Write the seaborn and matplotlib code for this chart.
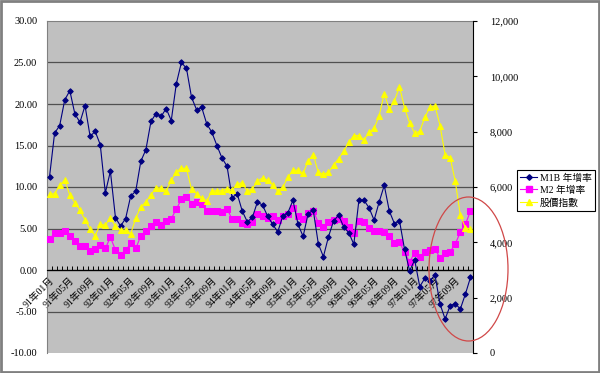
import matplotlib
matplotlib.use('Agg')
import matplotlib.pyplot as plt
from matplotlib.patches import Ellipse, Rectangle
from matplotlib.lines import Line2D
from matplotlib.transforms import ScaledTranslation
import seaborn as sns

# monthly categories 91年01月 .. 97年12月
months = [f'{y}年{m:02d}月' for y in range(91, 98) for m in range(1, 13)]

m1b_growth = [11.25, 16.5, 17.4, 20.5, 21.6, 18.8, 17.8, 19.8, 16.1, 16.7,
              15.1, 9.3, 11.9, 6.3, 5.3, 6.2, 8.9, 9.5, 13.1, 14.5,
              17.9, 18.85, 18.5, 19.45, 18.0, 22.45, 25.0, 24.3, 20.8, 19.3,
              19.6, 17.6, 16.6, 15.0, 13.5, 12.5, 8.7, 9.2, 7.1, 5.8,
              6.35, 8.2, 7.8, 6.5, 5.5, 4.6, 6.5, 6.9, 8.4, 5.5,
              4.05, 6.8, 7.2, 3.15, 1.6, 4.0, 5.9, 6.6, 5.2, 4.5,
              3.1, 8.4, 8.4, 7.5, 6.0, 8.2, 10.2, 7.1, 5.6, 5.95,
              2.5, -0.1, 1.2, -2.0, -1.0, -1.3, -0.6, -4.1, -5.9, -4.3,
              -4.05, -4.7, -2.9, -0.9]

m2_growth = [3.7, 4.45, 4.45, 4.7, 4.1, 3.55, 2.85, 2.85, 2.25, 2.55,
             3.05, 2.6, 3.95, 2.4, 1.85, 2.35, 3.2, 2.6, 4.1, 4.7,
             5.3, 5.8, 5.45, 5.85, 6.2, 7.3, 8.55, 8.85, 8.0, 8.2,
             7.9, 7.15, 7.15, 7.15, 7.0, 7.4, 6.1, 6.1, 5.65, 5.6,
             5.8, 6.7, 6.5, 6.25, 6.5, 6.0, 6.5, 6.7, 7.5, 6.45,
             6.1, 6.85, 7.15, 5.7, 5.2, 5.8, 6.0, 6.1, 5.95, 5.2,
             4.5, 5.95, 5.8, 5.1, 4.65, 4.65, 4.55, 4.05, 3.3, 3.35,
             2.15, 0.95, 2.1, 1.55, 2.2, 2.4, 2.55, 1.45, 2.0, 2.2,
             3.15, 4.55, 5.5, 7.1]

stock_index = [5730, 5760, 6060, 6255, 5700, 5430, 5160, 4815, 4470, 4245,
               4650, 4620, 4890, 4575, 4440, 4440, 4305, 4875, 5280, 5460,
               5715, 5970, 5970, 5850, 6240, 6555, 6675, 6675, 5910, 5760,
               5610, 5490, 5850, 5865, 5865, 5940, 5880, 6120, 6150, 5850,
               5940, 6210, 6330, 6240, 6075, 5850, 6000, 6345, 6615, 6600,
               6495, 6945, 7170, 6525, 6465, 6525, 6795, 7020, 7290, 7620,
               7860, 7860, 7695, 7980, 8115, 8580, 9375, 8805, 9105, 9630,
               8865, 8310, 7950, 8010, 8520, 8880, 8940, 8220, 7170, 7065,
               6210, 4980, 4530, 4470]

series_names = ['M1B 年增率', 'M2 年增率', '股價指數']
colors = ['#000080', '#FF00FF', '#FFFF00']

plt.rcParams['font.family'] = ['Liberation Serif', 'Noto Sans CJK TC']
plt.rcParams['axes.unicode_minus'] = False

idx = list(range(len(months)))

fig = plt.figure(figsize=(6, 3.73), dpi=100)
ax = fig.add_axes([47/600, 20/373, 426/600, 332/373])
ax.set_facecolor('#C0C0C0')
ax2 = ax.twinx()

sns.lineplot(x=idx, y=m1b_growth, ax=ax, color=colors[0], marker='D', markersize=2.8,
             markeredgecolor=colors[0], linewidth=0.8, zorder=4)
sns.lineplot(x=idx, y=m2_growth, ax=ax, color=colors[1], marker='s', markersize=3.8,
             markeredgecolor=colors[1], linewidth=0.8, zorder=3)
sns.lineplot(x=idx, y=stock_index, ax=ax2, color=colors[2], marker='^', markersize=3.8,
             markeredgecolor=colors[2], linewidth=0.8)

ax.set_xlim(-0.5, len(months) - 0.5)
ax.set_ylim(-10, 30)
ax2.set_ylim(0, 12000)
ax.set_yticks(range(-10, 31, 5))
ax.set_yticklabels([f'{v:.2f}' for v in range(-10, 31, 5)], fontsize=7.5)
ax.tick_params(axis='y', length=0, pad=7)
for v in range(-5, 30, 5):
    ax.axhline(v, color='#505050' if v != 0 else 'black', lw=0.9, zorder=1)

ax2.set_yticks(range(0, 12001, 2000))
ax2.set_yticklabels([f'{v:,}' for v in range(0, 12001, 2000)], fontsize=7.5)
ax2.tick_params(axis='y', length=3, width=0.8, pad=9, direction='out')

# category axis crossing at zero
ax.spines['bottom'].set_position(('data', 0))
ax.spines['bottom'].set_color('black')
ax.set_xticks(idx[::4])
ax.set_xticklabels(months[::4], rotation=45, ha='right', va='top',
                   rotation_mode='anchor', fontsize=7)
shift = ScaledTranslation(-0.06, 0, fig.dpi_scale_trans)
for lab in ax.get_xticklabels():
    lab.set_transform(lab.get_transform() + shift)
ax.set_xticks([i - 0.5 for i in idx], minor=True)
ax.tick_params(axis='x', which='major', length=0, pad=4)
ax.tick_params(axis='x', which='minor', length=3, width=0.7, direction='in')
for s in ['top', 'left']:
    ax.spines[s].set_color('#808080')
for s in ['top', 'left', 'bottom']:
    ax2.spines[s].set_visible(False)
ax2.spines['right'].set_color('black')
ax.spines['right'].set_visible(False)
ax.set_xlabel('')

handles = [Line2D([], [], color=colors[0], marker='D', markersize=2.8, lw=0.8),
           Line2D([], [], color=colors[1], marker='s', markersize=3.8, lw=0.8),
           Line2D([], [], color=colors[2], marker='^', markersize=3.8, lw=0.8)]
leg = fig.legend(handles, series_names, loc='center left',
                 bbox_to_anchor=(517/600, 1 - 190.5/373), fontsize=7,
                 frameon=True, fancybox=False, edgecolor='black', framealpha=1,
                 handlelength=1.7, handletextpad=0.3, borderpad=0.35, labelspacing=0.3,
                 borderaxespad=0)
leg.get_frame().set_linewidth(0.8)

fig.patches.append(Ellipse((468.5/600, 1 - 269/373), 79/600, 144/373,
                           transform=fig.transFigure, fill=False,
                           edgecolor='#D04848', lw=0.9, zorder=10))
fig.patches.append(Rectangle((0.002, 0.003), 0.996, 0.994, transform=fig.transFigure,
                             fill=False, edgecolor='#808080', lw=2))

fig.savefig('out.png', dpi=100)
